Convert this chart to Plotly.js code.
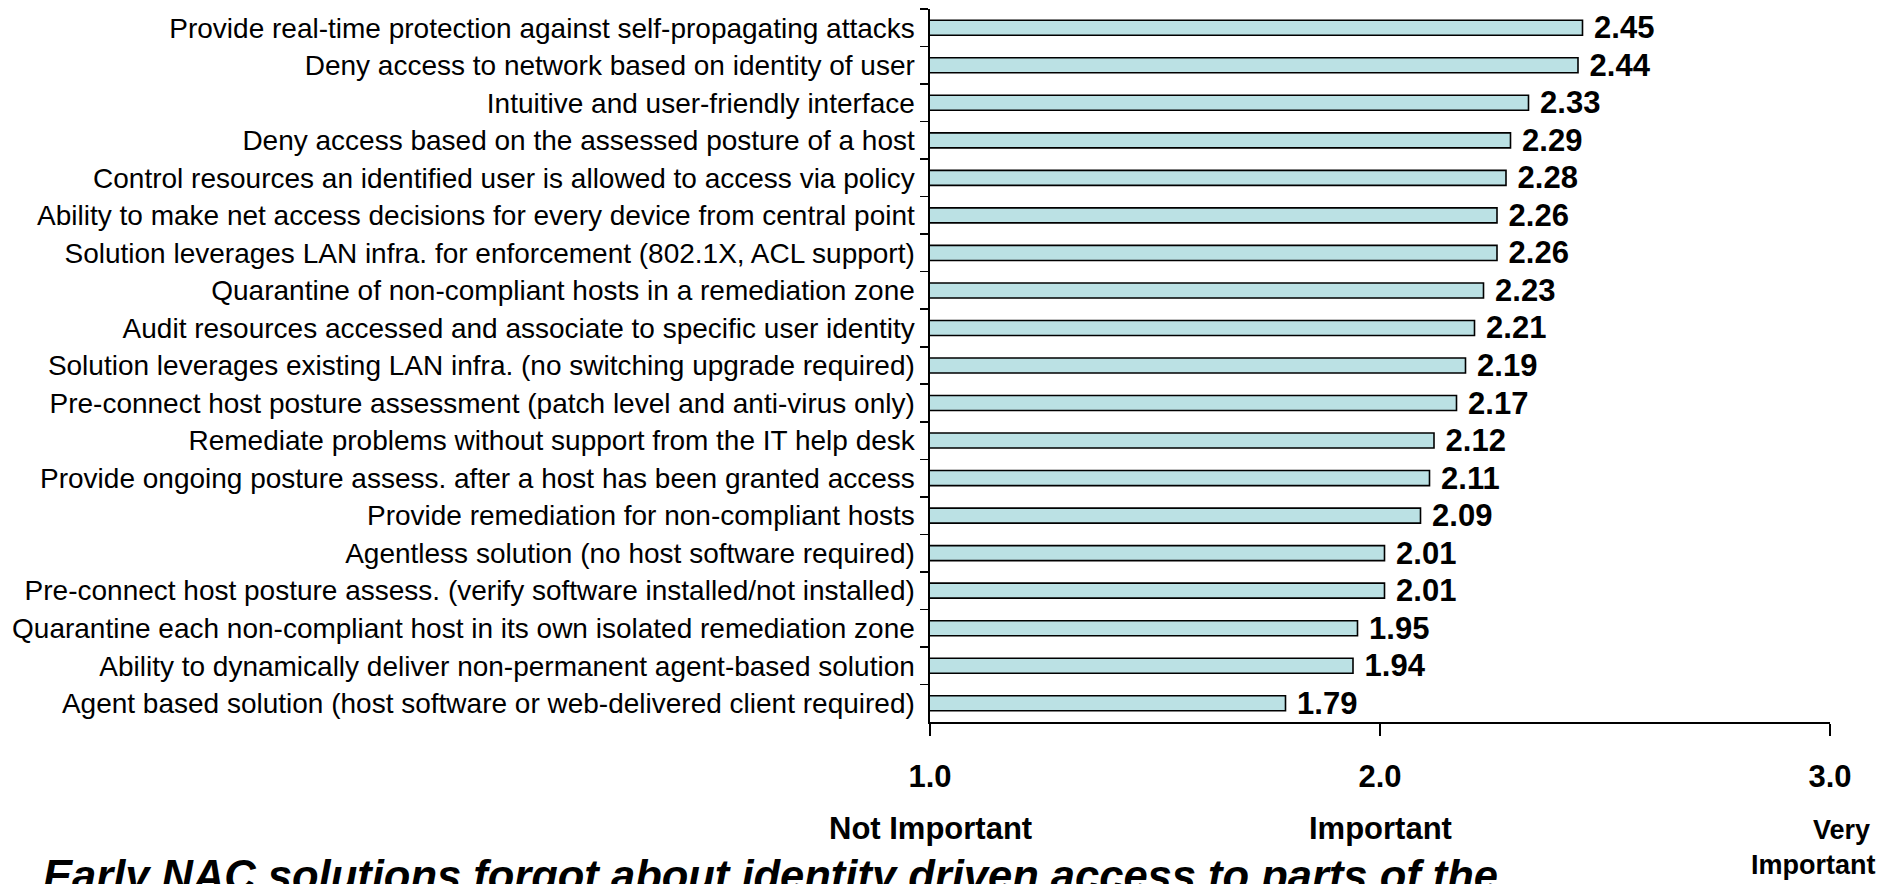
<!DOCTYPE html>
<html>
<head>
<meta charset="utf-8">
<script src="https://cdn.plot.ly/plotly-3.0.1.min.js"></script>
<style>html,body{margin:0;padding:0;background:#fff;}#chart{width:1892px;height:884px;}</style>
</head>
<body>
<div id="chart"></div>
<script>
const categories = [
  "Provide real-time protection against self-propagating attacks",
  "Deny access to network based on identity of user",
  "Intuitive and user-friendly interface",
  "Deny access based on the assessed posture of a host",
  "Control resources an identified user is allowed to access via policy",
  "Ability to make net access decisions for every device from central point",
  "Solution leverages LAN infra. for enforcement (802.1X, ACL support)",
  "Quarantine of non-compliant hosts in a remediation zone",
  "Audit resources accessed and associate to specific user identity",
  "Solution leverages existing LAN infra. (no switching upgrade required)",
  "Pre-connect host posture assessment (patch level and anti-virus only)",
  "Remediate problems without support from the IT help desk",
  "Provide ongoing posture assess. after a host has been granted access",
  "Provide remediation for non-compliant hosts",
  "Agentless solution (no host software required)",
  "Pre-connect host posture assess. (verify software installed/not installed)",
  "Quarantine each non-compliant host in its own isolated remediation zone",
  "Ability to dynamically deliver non-permanent agent-based solution",
  "Agent based solution (host software or web-delivered client required)"
];
const scores = [2.45, 2.44, 2.33, 2.29, 2.28, 2.26, 2.26, 2.23, 2.21, 2.19, 2.17, 2.12, 2.11, 2.09, 2.01, 2.01, 1.95, 1.94, 1.79];
const xTickVals = [1, 2, 3];
const xTickText = ["1.0", "2.0", "3.0"];
const scaleLabels = ["Not Important", "Important", "Very<br>Important"];
const titleText = "Early NAC solutions forgot about identity driven access to parts of the";

const FONT = "Liberation Sans, Arial, sans-serif";
const W = 1892, H = 884;
const M = { l: 930, r: 62, t: 9, b: 162 };
const plotBottom = H - M.b, plotH = H - M.t - M.b, plotW = W - M.l - M.r;
const paperY = py => (plotBottom - py) / plotH;
const paperX = px => (px - M.l) / plotW;

const trace = {
  type: "bar",
  orientation: "h",
  y: categories,
  x: scores,
  marker: { color: "#bbe1e4", line: { color: "#000000", width: 1.6 } },
  texttemplate: " %{x:.2f}",
  textposition: "outside",
  constraintext: "none",
  textfont: { family: FONT, size: 31, color: "#000000", weight: "bold" },
  hoverinfo: "skip"
};

const annotations = [];
const labFont = { family: FONT, size: 31, color: "#000" };
const smallFont = { family: FONT, size: 27, color: "#000" };
scaleLabels.forEach((t, i) => {
  const lines = t.split("<br>");
  if (lines.length === 1) {
    annotations.push({
      x: xTickVals[i], xref: "x", y: paperY(828), yref: "paper",
      yanchor: "middle", xanchor: "center",
      text: "<b>" + lines[0] + "</b>", showarrow: false, font: labFont
    });
  } else {
    annotations.push({
      x: paperX(1841), xref: "paper", y: paperY(830), yref: "paper",
      yanchor: "middle", xanchor: "center",
      text: "<b>" + lines[0] + "</b>", showarrow: false, font: smallFont
    });
    annotations.push({
      x: paperX(1878), xref: "paper", y: paperY(865), yref: "paper",
      yanchor: "middle", xanchor: "right",
      text: "<b>" + lines[1] + "</b>", showarrow: false, font: smallFont
    });
  }
});
annotations.push({
  x: paperX(770), xref: "paper", y: paperY(850), yref: "paper",
  xanchor: "center", yanchor: "top",
  text: "<b><i>" + titleText + "</i></b>", showarrow: false,
  font: { family: FONT, size: 43.5, color: "#000" }
});

const layout = {
  width: W, height: H,
  margin: M,
  paper_bgcolor: "#ffffff", plot_bgcolor: "#ffffff",
  showlegend: false,
  bargap: 0.6,
  xaxis: {
    range: [1, 3],
    tickvals: xTickVals,
    ticktext: xTickText.map(t => "<b>" + t + "</b>"),
    ticks: "outside", ticklen: 12, tickwidth: 1.6, tickcolor: "#000",
    showline: true, linecolor: "#000", linewidth: 1.6,
    showgrid: false, zeroline: false,
    ticklabelstandoff: 14,
    tickfont: { family: FONT, size: 31, color: "#000" }
  },
  yaxis: {
    autorange: "reversed",
    type: "category",
    ticks: "outside", tickson: "boundaries", ticklen: 8, tickwidth: 1.6, tickcolor: "#000",
    showline: true, linecolor: "#000", linewidth: 1.6,
    showgrid: false, zeroline: false,
    ticklabelstandoff: 8,
    tickfont: { family: FONT, size: 28, color: "#000" }
  },
  annotations: annotations
};

Plotly.newPlot("chart", [trace], layout, { displayModeBar: false, staticPlot: true });
</script>
</body>
</html>
